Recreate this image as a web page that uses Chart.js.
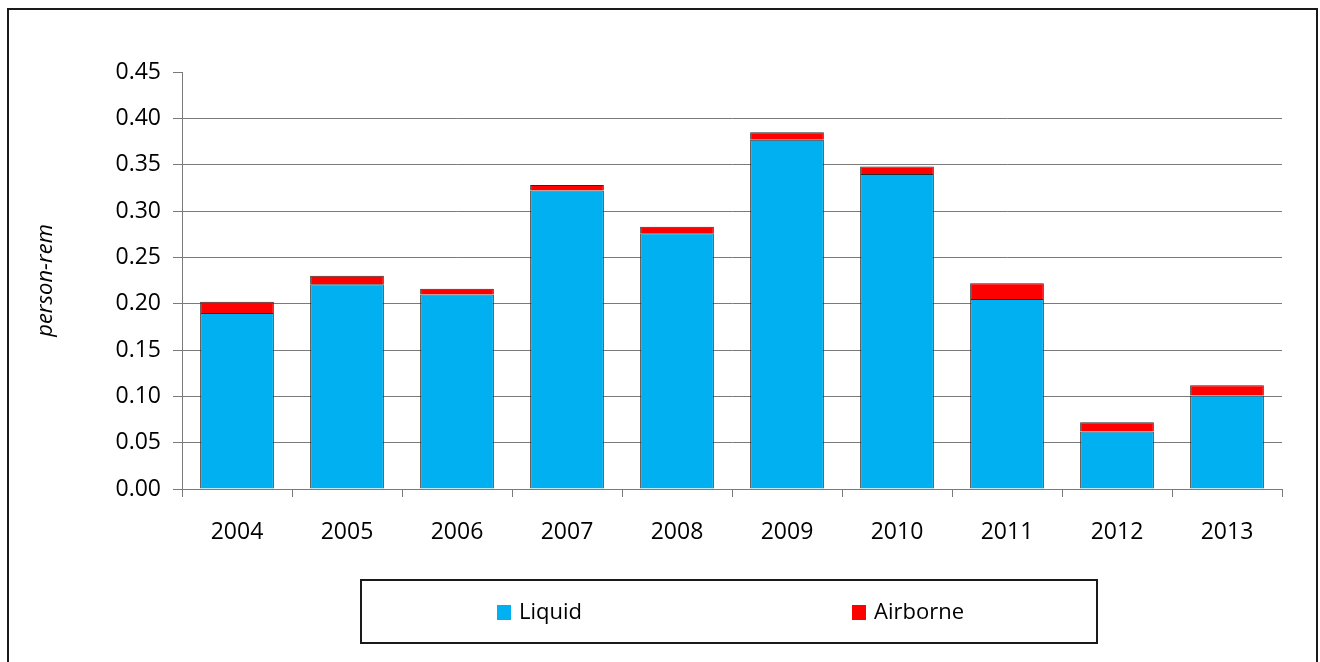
<!DOCTYPE html>
<html>
<head>
<meta charset="utf-8">
<script src="https://cdn.jsdelivr.net/npm/chart.js@4/dist/chart.umd.min.js"></script>
<style>
  html, body { margin: 0; padding: 0; background: #fff; }
  canvas { display: block; }
</style>
</head>
<body>
<canvas id="myChart" width="1320" height="662"></canvas>
<script>
// Values
let years = ['2004', '2005', '2006', '2007', '2008', '2009', '2010', '2011', '2012', '2013'];
let liquid = [0.190, 0.221, 0.210, 0.322, 0.276, 0.377, 0.340, 0.205, 0.062, 0.101];
let airborne = [0.012, 0.009, 0.006, 0.006, 0.007, 0.008, 0.008, 0.017, 0.010, 0.011];
let seriesNames = ['Liquid', 'Airborne'];

const gridGray = '#7a7a7a';

// Frame round the whole chart and the boxed legend under it
const framePlugin = {
    id: 'frame',
    beforeDraw(chart) {
        const ctx = chart.ctx;
        ctx.save();
        ctx.fillStyle = '#fff';
        ctx.fillRect(0, 0, chart.width, chart.height);
        ctx.strokeStyle = '#1a1a1a';
        ctx.lineWidth = 2;
        ctx.strokeRect(8, 9, 1309, 700);
        ctx.restore();
    },
    afterDraw(chart, args, opts) {
        const ctx = chart.ctx;
        ctx.save();
        ctx.strokeStyle = '#1a1a1a';
        ctx.lineWidth = 2;
        ctx.strokeRect(361, 580, 736, 63);
        ctx.font = '22px "Open Sans"';
        ctx.textBaseline = 'middle';
        chart.data.datasets.forEach((ds, i) => {
            const x = opts.itemX[i];
            ctx.fillStyle = ds.backgroundColor;
            ctx.fillRect(x, 605, 14, 15);
            ctx.fillStyle = '#000';
            ctx.fillText(ds.label, x + 22, 613);
        });
        ctx.restore();
    }
};

let myChart = document.getElementById('myChart').getContext('2d');

const config = {
    type: 'bar',
    data: {
        labels: years,
        datasets: [{
            label: seriesNames[0],
            data: liquid,
            backgroundColor: '#00B0F0',
            borderColor: '#2a2a2a',
            borderWidth: 1
        },
        {
            label: seriesNames[1],
            data: airborne,
            backgroundColor: '#FF0000',
            borderColor: '#2a2a2a',
            borderWidth: 1
        }]
    },
    plugins: [framePlugin],
    options: {
        responsive: false,
        animation: false,
        layout: { padding: { top: 72, right: 38, left: 0, bottom: 0 } },
        datasets: { bar: { barPercentage: 0.67, categoryPercentage: 1 } },
        plugins: {
            legend: { display: false },
            tooltip: { enabled: false },
            frame: { itemX: [497, 852] }
        },
        scales: {
            x: {
                stacked: true,
                afterFit: (scale) => { scale.height = 173; },
                grid: {
                    offset: true,
                    drawOnChartArea: false,
                    drawTicks: true,
                    tickLength: 8,
                    color: gridGray
                },
                border: { display: true, color: gridGray },
                ticks: {
                    color: '#000',
                    padding: 22,
                    font: { family: 'Open Sans', size: 23 }
                }
            },
            y: {
                stacked: true,
                min: 0,
                max: 0.45,
                afterFit: (scale) => { scale.width = 182; },
                grid: {
                    color: (c) => (c.tick && c.tick.value >= 0.449 ? 'rgba(0,0,0,0)' : gridGray),
                    tickColor: gridGray,
                    tickLength: 9
                },
                border: { display: true, color: gridGray },
                ticks: {
                    stepSize: 0.05,
                    color: '#000',
                    padding: 12,
                    font: { family: 'Open Sans', size: 23 },
                    callback: (v) => v.toFixed(2)
                },
                title: {
                    display: true,
                    text: 'person-rem',
                    color: '#000',
                    padding: { top: 33, bottom: 0 },
                    font: { family: 'Open Sans', size: 22, style: 'italic' }
                }
            }
        }
    }
};

const theChart = new Chart(myChart, config);
</script>
</body>
</html>
